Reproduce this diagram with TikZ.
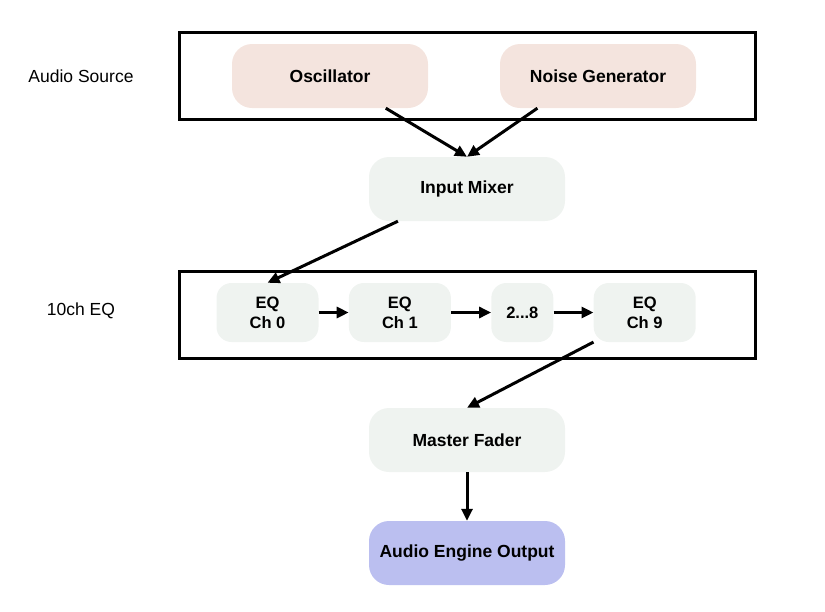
\documentclass[tikz,border=0pt]{standalone}
\usepackage{fontspec}
\setmainfont{Liberation Sans}
\usetikzlibrary{positioning,arrows.meta}
\definecolor{srcfill}{HTML}{F4E4DE}
\definecolor{stagefill}{HTML}{EFF3F0}
\definecolor{outfill}{HTML}{BBBFF0}
\tikzset{block/.style={rounded corners=20pt,fill=stagefill,inner sep=0pt,minimum width=196pt,minimum height=64pt,font=\fontsize{17.5}{21}\selectfont\bfseries},
	 eqblock/.style={block,rounded corners=15pt,minimum width=102pt,minimum height=59pt,align=center,font=\fontsize{16.5}{20}\selectfont\bfseries},
	 frame/.style={draw,line width=3pt,inner sep=0pt},
	 flow/.style={-{Triangle[length=12pt,width=11pt]},line width=3pt},
	 grouplabel/.style={font=\fontsize{17.5}{21}\selectfont},
	 node distance = 30pt
	 }

\begin{document}
\begin{tikzpicture}[x=1pt,y=-1pt] % audio signal chain
	\useasboundingbox (0,0) rectangle (825,611);
	\node[frame,minimum width=576pt,minimum height=87pt] (srcframe) at (467,75.5) {};
	\node[frame,minimum width=576pt,minimum height=87pt] (eqframe) at (467,314.5) {};
	\node[grouplabel] (srclabel) at (81,76) {Audio Source};
	\node[grouplabel] (eqlabel) at (81,311) {10ch EQ};
	\node[block,fill=srcfill] (osc) at (330,76) {Oscillator};
	\node[block,fill=srcfill] (noise) at (598,76) {Noise Generator};
	\node[block] (mixer) at (467,189) {Input Mixer};
	\node[eqblock] (eq0) at (267.5,312.5) {EQ\\Ch 0};
	\node[eqblock] (eq1) [right= of eq0] {EQ\\Ch 1};
	\node[eqblock,minimum width=62pt] (eqmid) [right=40pt of eq1] {2...8};
	\node[eqblock] (eq9) [right=40pt of eqmid] {EQ\\Ch 9};
	\node[block] (master) at (467,440) {Master Fader};
	\node[block,fill=outfill] (out) at (467,553) {Audio Engine Output};
	\draw[flow] (osc.-30) to (mixer.north); \draw[flow] (noise.-152) to (mixer.north);
	\draw[flow] (mixer.-155) to (eq0.north);
	\draw[flow] (eq0) to (eq1); \draw[flow] (eq1) to (eqmid); \draw[flow] (eqmid) to (eq9);
	\draw[flow] (eq9.-150) to (master.north);
	\draw[flow] (master) to (out);
\end{tikzpicture}
\end{document}
